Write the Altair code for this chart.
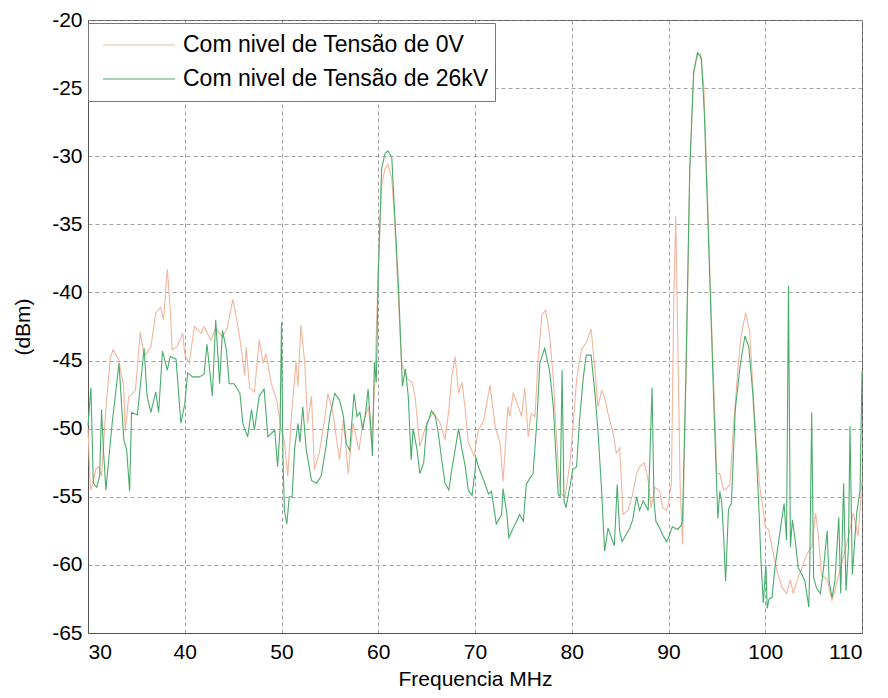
import altair as alt
import pandas as pd

series_names = ["Com nivel de Tensão de 0V", "Com nivel de Tensão de 26kV"]
series_colors = ["#f2b59d", "#4aac6c"]

f_0v = [30.0, 30.25, 30.5, 30.8, 31.1, 31.4, 31.8, 32.3, 32.6, 33.2, 33.7, 33.85, 34.2, 34.9, 35.4, 35.8,
        36.5, 37.0, 37.5, 37.8, 38.2, 38.5, 38.7, 39.2, 39.8, 40.0, 40.45, 41.0, 41.7, 42.0, 42.7, 43.2,
        43.9, 44.4, 44.97, 45.3, 45.7, 46.2, 46.35, 46.7, 47.2, 47.7, 48.1, 48.4, 48.95, 49.5, 50.0, 50.3,
        50.65, 51.0, 51.5, 51.7, 52.0, 52.4, 52.7, 53.1, 53.4, 53.9, 54.4, 54.8, 55.3, 55.7, 56.0, 56.4,
        56.9, 57.4, 58.0, 58.4, 59.0, 59.3, 59.65, 60.0, 60.35, 60.7, 61.0, 61.4, 61.7, 62.1, 62.4, 62.8,
        63.1, 63.5, 63.8, 64.3, 65.0, 65.7, 66.4, 66.9, 67.3, 67.6, 67.95, 68.3, 68.65, 69.0, 69.3, 69.9,
        70.35, 70.9, 71.55, 72.1, 72.6, 72.9, 73.4, 73.6, 73.95, 74.5, 74.8, 75.15, 75.5, 75.8, 76.2, 76.5,
        76.9, 77.3, 77.7, 78.1, 78.4, 78.7, 78.9, 79.3, 79.8, 80.1, 80.5, 81.0, 81.5, 82.0, 82.4, 82.7,
        83.1, 83.4, 83.75, 84.3, 84.6, 84.95, 85.3, 85.8, 86.3, 86.7, 87.0, 87.5, 87.9, 88.2, 88.6, 89.1,
        89.4, 89.8, 90.0, 90.3, 90.55, 90.75, 90.95, 91.2, 91.45, 91.9, 92.2, 92.6, 93.0, 93.3, 93.65, 94.0,
        94.3, 94.7, 95.0, 95.3, 95.7, 96.0, 96.35, 96.7, 97.2, 97.5, 97.97, 98.4, 98.7, 99.05, 99.4, 99.7,
        100.0, 100.35, 100.7, 101.2, 101.7, 102.2, 102.6, 102.9, 103.3, 103.8, 104.3, 104.8, 105.2, 105.5,
        105.8, 106.4, 106.9, 107.2, 107.6, 108.1, 108.6, 109.1, 109.6, 110.0]
dbm_0v = [-50.0, -54.5, -54.0, -53.0, -52.8, -53.5, -49.0, -44.8, -44.2, -45.0, -47.0, -50.2, -47.7, -47.2, -42.9, -44.7,
          -44.0, -41.5, -41.1, -42.0, -38.3, -41.2, -44.2, -44.0, -43.0, -44.5, -45.2, -42.5, -43.0, -42.5, -43.5, -42.6,
          -43.3, -42.6, -40.5, -41.7, -43.4, -46.1, -44.0, -47.0, -47.3, -43.5, -45.2, -44.5, -46.7, -47.9, -50.1, -51.0,
          -53.5, -49.3, -45.1, -46.9, -42.4, -45.1, -49.6, -47.6, -53.0, -51.8, -49.6, -47.4, -48.8, -50.8, -52.3, -49.3,
          -53.3, -49.6, -51.6, -49.6, -48.4, -51.0, -46.6, -38.2, -32.1, -30.9, -30.6, -31.6, -34.8, -40.7, -45.1, -46.0,
          -46.4, -46.6, -47.6, -51.3, -49.6, -48.8, -49.6, -50.8, -48.6, -46.1, -44.7, -47.4, -46.6, -48.6, -51.0, -52.0,
          -50.1, -49.4, -46.8, -49.9, -51.1, -53.9, -48.4, -49.1, -47.4, -48.4, -49.1, -47.0, -50.6, -48.9, -49.1, -45.2,
          -41.7, -41.3, -43.0, -46.4, -50.4, -53.8, -54.8, -55.0, -52.6, -50.1, -46.4, -44.2, -43.7, -42.7, -45.7, -48.4,
          -47.2, -47.7, -48.9, -50.4, -51.8, -51.4, -56.3, -56.0, -54.8, -53.3, -52.8, -52.5, -53.8, -55.8, -54.3, -54.6,
          -55.8, -56.0, -55.5, -54.0, -40.4, -34.4, -43.1, -54.1, -58.5, -43.2, -30.9, -24.0, -22.5, -22.5, -24.9, -32.2,
          -39.1, -47.3, -53.3, -53.3, -54.5, -54.4, -54.1, -50.0, -45.4, -43.2, -41.5, -42.9, -46.7, -50.8, -54.1, -55.5,
          -57.2, -57.4, -58.7, -60.4, -61.6, -62.1, -61.1, -62.1, -61.1, -60.2, -59.2, -58.7, -56.2, -57.9,
          -60.7, -61.1, -62.6, -61.9, -60.7, -59.4, -57.9, -56.2, -57.9, -53.8]

f_26kv = [30.0, 30.3, 30.55, 30.9, 31.2, 31.4, 31.6, 31.85, 32.5, 33.2, 33.7, 34.0, 34.3, 34.5, 35.1, 35.8,
          36.1, 36.5, 37.0, 37.3, 37.7, 38.2, 38.5, 39.1, 39.6, 40.0, 40.3, 40.8, 41.5, 42.0, 42.3, 42.85,
          43.2, 43.6, 43.9, 44.3, 44.6, 45.1, 45.7, 46.0, 46.5, 46.9, 47.2, 47.7, 48.2, 48.6, 49.3, 49.6,
          49.85, 50.0, 50.15, 50.3, 50.55, 50.8, 51.1, 51.35, 51.7, 51.9, 52.2, 52.55, 53.1, 53.6, 54.1, 54.6,
          55.0, 55.5, 56.0, 56.4, 56.7, 57.05, 57.5, 57.8, 58.1, 58.4, 58.7, 58.95, 59.2, 59.4, 59.6, 59.8,
          60.0, 60.35, 60.7, 61.0, 61.4, 61.7, 62.1, 62.5, 62.8, 63.1, 63.4, 63.6, 64.0, 64.3, 64.7, 65.0,
          65.5, 65.9, 66.2, 66.6, 66.9, 67.3, 67.6, 67.96, 68.3, 68.65, 69.0, 69.3, 69.7, 70.0, 70.1, 70.35,
          70.9, 71.4, 71.7, 72.2, 72.75, 72.9, 73.3, 73.5, 73.95, 74.3, 74.6, 75.0, 75.3, 75.7, 76.0, 76.4,
          76.7, 77.2, 77.7, 78.1, 78.35, 78.6, 78.8, 79.0, 79.2, 79.4, 79.8, 80.1, 80.5, 80.8, 81.2, 81.5,
          82.0, 82.4, 82.7, 83.05, 83.4, 83.75, 84.1, 84.4, 84.7, 84.95, 85.2, 85.6, 86.0, 86.3, 86.7, 87.0,
          87.4, 87.9, 88.3, 88.5, 88.7, 89.1, 89.4, 89.8, 90.0, 90.4, 90.95, 91.3, 91.45, 91.8, 92.2, 92.6,
          93.0, 93.4, 93.7, 94.05, 94.4, 94.7, 95.1, 95.3, 95.5, 95.7, 95.9, 96.2, 96.5, 96.9, 97.4, 97.9,
          98.3, 98.7, 99.05, 99.4, 99.55, 99.8, 100.07, 100.2, 100.4, 100.7, 101.0, 101.4, 101.7, 101.95, 102.2, 102.4,
          102.6, 102.8, 103.1, 103.4, 103.8, 104.1, 104.5, 104.6, 104.8, 105.0, 105.3, 105.7, 106.0, 106.4, 106.6, 106.9,
          107.2, 107.6, 107.8, 108.1, 108.35, 108.6, 108.76, 109.0, 109.45, 109.8, 110.0]
dbm_26kv = [-49.8, -47.0, -54.0, -54.3, -53.5, -48.6, -51.6, -54.5, -49.6, -45.2, -50.8, -51.6, -54.6, -48.8, -49.0, -44.1,
            -47.6, -48.8, -47.3, -48.8, -44.3, -45.7, -44.7, -44.9, -49.6, -48.2, -45.9, -46.2, -46.2, -46.0, -43.8, -47.6,
            -42.0, -46.7, -42.8, -44.2, -46.7, -46.7, -47.4, -49.6, -50.6, -48.6, -50.1, -47.6, -47.1, -50.6, -50.1, -52.8,
            -50.0, -42.2, -52.0, -56.0, -57.0, -55.0, -55.0, -51.5, -49.6, -51.0, -48.4, -51.5, -53.8, -54.0, -53.5, -51.3,
            -49.1, -47.4, -47.9, -49.1, -51.1, -51.6, -47.4, -49.1, -48.8, -50.1, -48.8, -47.1, -49.6, -52.0, -45.1, -46.6,
            -38.7, -30.9, -29.8, -29.6, -30.1, -34.3, -39.7, -46.9, -45.6, -47.6, -52.3, -50.0, -51.5, -53.3, -52.5, -49.8,
            -48.7, -49.1, -50.3, -52.5, -54.0, -54.5, -53.0, -51.5, -50.0, -51.5, -52.8, -54.5, -54.9, -53.1, -52.1, -52.8,
            -53.8, -54.8, -54.6, -57.0, -56.3, -54.4, -56.3, -58.0, -57.3, -56.8, -56.3, -56.8, -54.1, -53.6, -53.3, -49.4,
            -45.2, -44.1, -45.7, -48.4, -51.8, -54.8, -55.0, -45.7, -55.3, -55.8, -54.3, -53.0, -52.8, -49.4, -46.2, -44.6,
            -44.6, -47.4, -50.1, -54.1, -59.0, -57.3, -58.0, -58.6, -54.1, -57.5, -58.3, -57.8, -57.3, -56.7, -55.0, -56.0,
            -55.3, -56.0, -47.0, -55.3, -56.8, -57.3, -57.8, -58.3, -58.0, -57.2, -57.4, -57.1, -56.8, -45.9, -30.9, -23.8,
            -22.4, -22.8, -26.8, -34.2, -41.8, -48.6, -56.6, -54.6, -55.4, -57.9, -61.2, -55.9, -55.5, -48.6, -45.4, -43.2,
            -44.0, -47.3, -51.4, -56.8, -59.6, -62.8, -60.0, -63.2, -62.5, -62.4, -60.2, -58.2, -56.7, -55.5, -58.2, -39.5,
            -58.7, -56.7, -58.2, -60.2, -60.7, -61.2, -63.1, -60.2, -48.8, -60.9, -61.7, -62.1, -60.4, -57.5, -61.2, -62.4,
            -61.2, -56.5, -62.1, -54.0, -61.9, -58.7, -49.8, -60.7, -56.2, -54.5, -45.8]

x_ticks = [30, 40, 50, 60, 70, 80, 90, 100, 110]
y_ticks = [-65, -60, -55, -50, -45, -40, -35, -30, -25, -20]

rows = []
for i, (f, v) in enumerate(zip(f_0v, dbm_0v)):
    rows.append({"f": f, "v": v, "s": series_names[0], "o": i})
for i, (f, v) in enumerate(zip(f_26kv, dbm_26kv)):
    rows.append({"f": f, "v": v, "s": series_names[1], "o": i})
df = pd.DataFrame(rows)

FONT = "Liberation Sans"

chart = (
    alt.Chart(df)
    .mark_line(strokeWidth=1.1, interpolate="linear")
    .encode(
        x=alt.X("f:Q", scale=alt.Scale(domain=[30, 110], nice=False, zero=False),
                axis=alt.Axis(values=x_ticks, title="Frequencia MHz", labelExpr="datum.value + ''")),
        y=alt.Y("v:Q", scale=alt.Scale(domain=[-65, -20], nice=False, zero=False),
                axis=alt.Axis(values=y_ticks, title="(dBm)", labelExpr="datum.value + ''")),
        color=alt.Color("s:N",
                        scale=alt.Scale(domain=series_names, range=series_colors),
                        legend=alt.Legend(title=None, orient="none", legendX=0, legendY=3,
                                          symbolType="stroke", symbolSize=5184,
                                          symbolStrokeWidth=1.2, clipHeight=32,
                                          labelFontSize=23, labelFont=FONT, labelColor="black",
                                          labelOffset=7, padding=6, symbolOffset=8,
                                          fillColor="white", strokeColor="#777777",
                                          labelLimit=500)),
        order="o:Q",
    )
    .properties(
        width=774, height=613,
        autosize=alt.AutoSizeParams(type="none"),
        padding={"left": 88, "top": 20, "right": 26, "bottom": 65},
    )
    .configure_view(stroke="#555555", strokeWidth=1)
    .configure_axis(
        labelFont=FONT, labelFontSize=21, labelColor="black",
        titleFont=FONT, titleFontSize=21, titleColor="black", titleFontWeight="normal",
        grid=True, gridColor="#8a8a8a", gridDash=[4, 3], gridWidth=0.8, gridOpacity=1,
        domainColor="#555555", ticks=False,
    )
    .configure_axisX(labelPadding=8, titlePadding=6)
    .configure_axisY(labelPadding=6, titlePadding=18)
)

chart.save("out.html", embed_options={"renderer": "svg", "actions": False})
